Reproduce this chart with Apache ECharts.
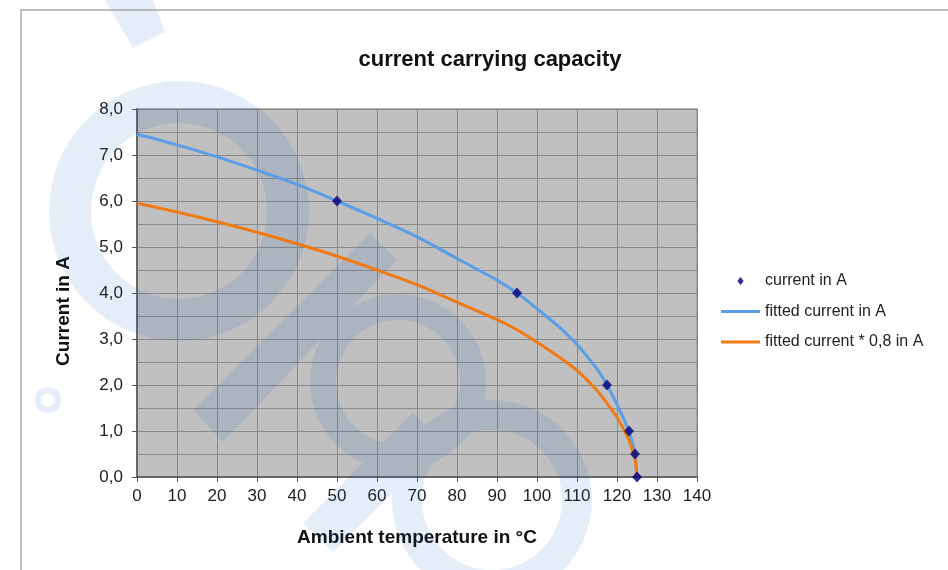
<!DOCTYPE html>
<html><head><meta charset="utf-8">
<script src="https://cdn.jsdelivr.net/npm/echarts@6/dist/echarts.min.js"></script>
<style>html,body{margin:0;padding:0;background:#fff}#c{width:948px;height:570px}</style>
</head><body><div id="c"></div>
<script>
// ---- data ----
const chartTitle = 'current carrying capacity';
const xName = 'Ambient temperature in \u00B0C';
const yName = 'Current in A';
const seriesNames = ['current in A', 'fitted current in A', 'fitted current * 0,8 in A'];
const fitTemps   = [0,10,20,30,40,50,60,70,80,90,95,100,105,110,115,117.5,120,122,123,124,124.5,125];
const fitCurrent = [7.45,7.22,6.96,6.67,6.36,6.0,5.62,5.22,4.75,4.28,4.0,3.66,3.3,2.88,2.35,2.0,1.58,1.2,0.98,0.7,0.5,0.0];
const fitCurrent08 = [5.95,5.76,5.55,5.32,5.07,4.8,4.5,4.18,3.8,3.42,3.2,2.93,2.64,2.32,1.88,1.6,1.3,0.98,0.8,0.55,0.4,0.0];
const measTemps   = [50,95,117.5,123,124.5,125];
const measCurrent = [6.0,4.0,2.0,1.0,0.5,0.0];
const xRange = [0, 140, 10];
const yRange = [0, 8, 1];

const pairs = (xs, ys) => xs.map((x, i) => [x, ys[i]]);

// ---- background watermark (decoration) ----
function circ(cx, cy, r, cw) {
  const s = cw ? 1 : 0;
  return 'M' + (cx - r) + ',' + cy + 'A' + r + ',' + r + ',0,1,' + s + ',' + (cx + r) + ',' + cy +
         'A' + r + ',' + r + ',0,1,' + s + ',' + (cx - r) + ',' + cy + 'Z';
}
function ring(cx, cy, ro, ri) { return circ(cx, cy, ro, true) + circ(cx, cy, ri, false); }
function poly(pts) { return 'M' + pts.map(p => p.join(',')).join('L') + 'Z'; }
const wmPath =
  ring(179, 211, 130, 88) +
  poly([[105,0],[153,0],[165,32],[133,48]]) +
  poly([[193,410],[370,233],[397,260],[223,442]]) +
  ring(398, 382, 88, 62) +
  ring(492, 500, 100, 70) +
  poly([[303,523],[413,413],[443,442],[333,552]]) +
  ring(48, 400, 13, 7);

const chart = echarts.init(document.getElementById('c'), null, {renderer: 'canvas'});
const FONT = 'Liberation Sans, Arial, sans-serif';
const lineIcon = 'path://M0,-1.5L39,-1.5L39,1.5L0,1.5Z';
const diamondIcon = 'path://M0,-5L4,0L0,5L-4,0Z';
chart.setOption({
  backgroundColor: '#ffffff',
  animation: false,
  title: {
    text: chartTitle, left: 485, top: 44, textAlign: 'center',
    textStyle: {fontFamily: FONT, fontSize: 22, fontWeight: 'bold', color: '#111'}
  },
  legend: {
    orient: 'vertical', left: 716, top: 268, itemWidth: 39, itemHeight: 8, itemGap: 14.5,
    data: [
      {name: seriesNames[0], icon: diamondIcon},
      {name: seriesNames[1], icon: lineIcon},
      {name: seriesNames[2], icon: lineIcon}
    ],
    textStyle: {fontFamily: FONT, fontSize: 16, color: '#222'}
  },
  grid: {
    left: 137, right: 251, top: 109, bottom: 93, show: true,
    backgroundColor: '#c0c0c0', borderColor: '#9a9a9a', borderWidth: 1.5
  },
  xAxis: {
    type: 'value', min: xRange[0], max: xRange[1], interval: xRange[2],
    name: xName, nameLocation: 'middle', nameGap: 51,
    nameTextStyle: {fontFamily: FONT, fontSize: 19, fontWeight: 'bold', color: '#111'},
    axisLine: {show: true, onZero: false, lineStyle: {color: '#555', width: 1.5}},
    axisTick: {show: true, length: 5, lineStyle: {color: '#555'}},
    axisLabel: {fontFamily: FONT, fontSize: 17, color: '#222', margin: 11},
    splitLine: {show: true, lineStyle: {color: '#888', width: 1}}
  },
  yAxis: {
    type: 'value', min: yRange[0], max: yRange[1], interval: yRange[2],
    name: yName, nameLocation: 'middle', nameGap: 64, nameRotate: 90,
    nameTextStyle: {fontFamily: FONT, fontSize: 19, fontWeight: 'bold', color: '#111', padding: [0, 36, 0, 0]},
    axisLine: {show: true, lineStyle: {color: '#555', width: 1.5}},
    axisTick: {show: true, length: 5, lineStyle: {color: '#555'}},
    axisLabel: {fontFamily: FONT, fontSize: 17, color: '#222', margin: 14,
      formatter: v => v.toFixed(1).replace('.', ',')},
    splitLine: {show: true, lineStyle: {color: '#888', width: 1}},
    minorTick: {show: false, splitNumber: 2},
    minorSplitLine: {show: true, lineStyle: {color: '#8c8c8c', width: 1}}
  },
  graphic: [{
    type: 'rect', z: 100, silent: true,
    shape: {x: 21, y: 10, width: 960, height: 600},
    style: {fill: 'none', stroke: '#a8a8a8', lineWidth: 1.5}
  }],
  series: [
    {
      type: 'custom', name: 'wm', coordinateSystem: 'none', z: 1, silent: true,
      data: [[0]],
      renderItem: () => ({
        type: 'path', shape: {pathData: wmPath},
        style: {fill: 'rgba(0,85,185,0.1)'}
      })
    },
    {
      name: seriesNames[1], type: 'line', data: pairs(fitTemps, fitCurrent),
      smooth: 0.3, symbol: 'none', z: 3,
      lineStyle: {color: '#5b9de6', width: 3}, itemStyle: {color: '#5b9de6'}
    },
    {
      name: seriesNames[2], type: 'line', data: pairs(fitTemps, fitCurrent08),
      smooth: 0.3, symbol: 'none', z: 3,
      lineStyle: {color: '#f07a14', width: 3}, itemStyle: {color: '#f07a14'}
    },
    {
      name: seriesNames[0], type: 'scatter', data: pairs(measTemps, measCurrent),
      symbol: 'diamond', symbolSize: [10, 11], z: 4,
      itemStyle: {color: '#00007a'}
    }
  ]
});
</script></body></html>
